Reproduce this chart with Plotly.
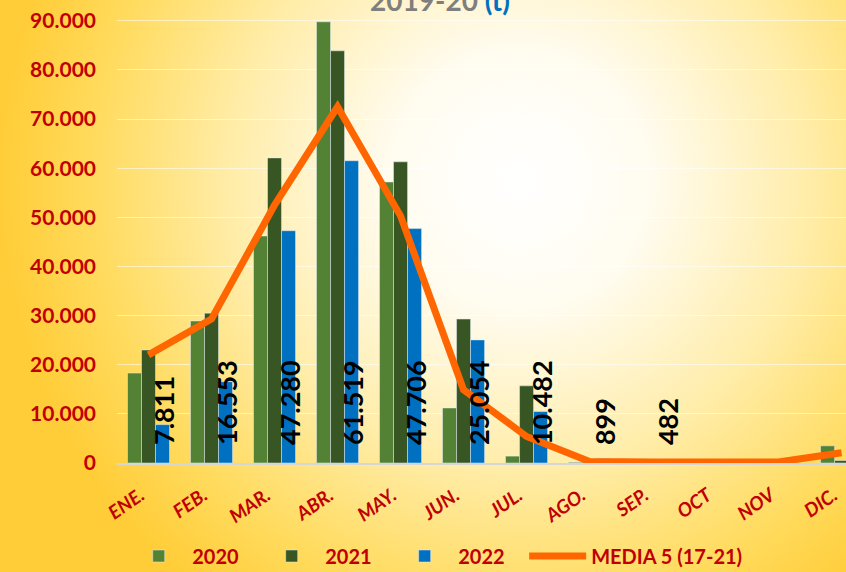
import base64
import plotly.graph_objects as go

# data
months = ["ENE.", "FEB.", "MAR.", "ABR.", "MAY.", "JUN.", "JUL.", "AGO.", "SEP.", "OCT", "NOV", "DIC."]
y2020 = [18300, 28900, 46200, 89800, 57200, 11200, 1400, 150, 100, 0, 0, 3500]
y2021 = [23000, 30500, 62100, 83900, 61300, 29300, 15700, 400, 150, 0, 0, 500]
y2022 = [7811, 16553, 47280, 61519, 47706, 25054, 10482, 899, 482, None, None, None]
media = [22000, 29300, 52500, 72500, 50300, 14900, 5400, 300, 200, 200, 200, 2100]

RED = "#C00000"
FONT = "Lato"
PAD = "&nbsp;" * 3  # widen legend entries a bit

# radial yellow background (no gradient support in plotly -> svg image)
svg = """<svg xmlns='http://www.w3.org/2000/svg' width='846' height='572'>
<defs><radialGradient id='g' gradientUnits='userSpaceOnUse' cx='520' cy='180' r='520'>
<stop offset='0' stop-color='#FFFFFF'/>
<stop offset='0.25' stop-color='#FFFCF0'/>
<stop offset='0.55' stop-color='#FFEDAA'/>
<stop offset='0.82' stop-color='#FFDB5E'/>
<stop offset='1' stop-color='#FFCD38'/>
</radialGradient></defs>
<rect width='846' height='572' fill='url(#g)'/></svg>"""
bg = "data:image/svg+xml;base64," + base64.b64encode(svg.encode()).decode()

fig = go.Figure()
fig.add_bar(x=months, y=y2020, name="2020" + PAD, marker_color="#548235")
fig.add_bar(x=months, y=y2021, name="2021" + PAD, marker_color="#375623")
fig.add_bar(x=months, y=y2022, name="2022" + PAD, marker_color="#0070C0")
fig.add_scatter(x=months, y=media, name="MEDIA 5 (17-21)", mode="lines",
                line=dict(color="#FF6600", width=7))

# vertical value labels for 2022
for m, v in zip(months, y2022):
    if v is None:
        continue
    fig.add_annotation(x=m, y=0, text=f"{v:,}".replace(",", "."), textangle=-90,
                       showarrow=False, xshift=15, yshift=16, yanchor="bottom",
                       font=dict(family=FONT, size=27, color="black", weight="bold"))

# title, mostly cut off at the top of the picture
fig.add_annotation(xref="paper", yref="paper", x=0.443, y=1, yanchor="bottom", yshift=-8,
                   showarrow=False,
                   text="<span style='color:#7F7F7F'>2019-20</span> <span style='color:#0070C0'>(t)</span>",
                   font=dict(family=FONT, size=28, weight="bold"))

# paper coords of the whole page (plot area is 117..846 x 11..463)
pw, ph = 846 - 117, 463 - 11
fig.add_layout_image(source=bg, xref="paper", yref="paper", x=-117 / pw, y=1 + 11 / ph,
                     sizex=846 / pw, sizey=572 / ph, sizing="stretch", layer="below",
                     xanchor="left", yanchor="top")

fig.update_layout(
    width=846, height=572,
    margin=dict(l=117, r=0, t=11, b=109, autoexpand=False),
    paper_bgcolor="#FFDB5E", plot_bgcolor="rgba(0,0,0,0)",
    barmode="group", bargap=0.333, bargroupgap=0,
    separators=",.",
    showlegend=True,
    legend=dict(orientation="h", xref="container", yref="paper", x=0.148, y=-93 / ph,
                xanchor="left", yanchor="middle", itemwidth=57,
                font=dict(family=FONT, size=20, color=RED, weight="bold"),
                bgcolor="rgba(0,0,0,0)"),
    font=dict(family=FONT),
)
fig.update_xaxes(range=[-0.5, 11.07], tickangle=-35, showline=True, linecolor="#D6D6D6",
                 linewidth=2, showgrid=False, ticks="", ticklabelstandoff=12,
                 ticklabelshift=-8,
                 tickfont=dict(family=FONT, size=19, color=RED, weight="bold", style="italic"))
fig.update_yaxes(range=[0, 92000], dtick=10000, tickformat=",d", showgrid=True,
                 gridcolor="rgba(255,255,255,0.55)", gridwidth=1, zeroline=False,
                 ticks="", ticklabelstandoff=20,
                 tickfont=dict(family=FONT, size=21, color=RED, weight="bold"))

# drop the default page margin so the figure sits at the window corner
fig.write_html("out.html", config={"displayModeBar": False},
               post_script="document.body.style.margin='0';")
